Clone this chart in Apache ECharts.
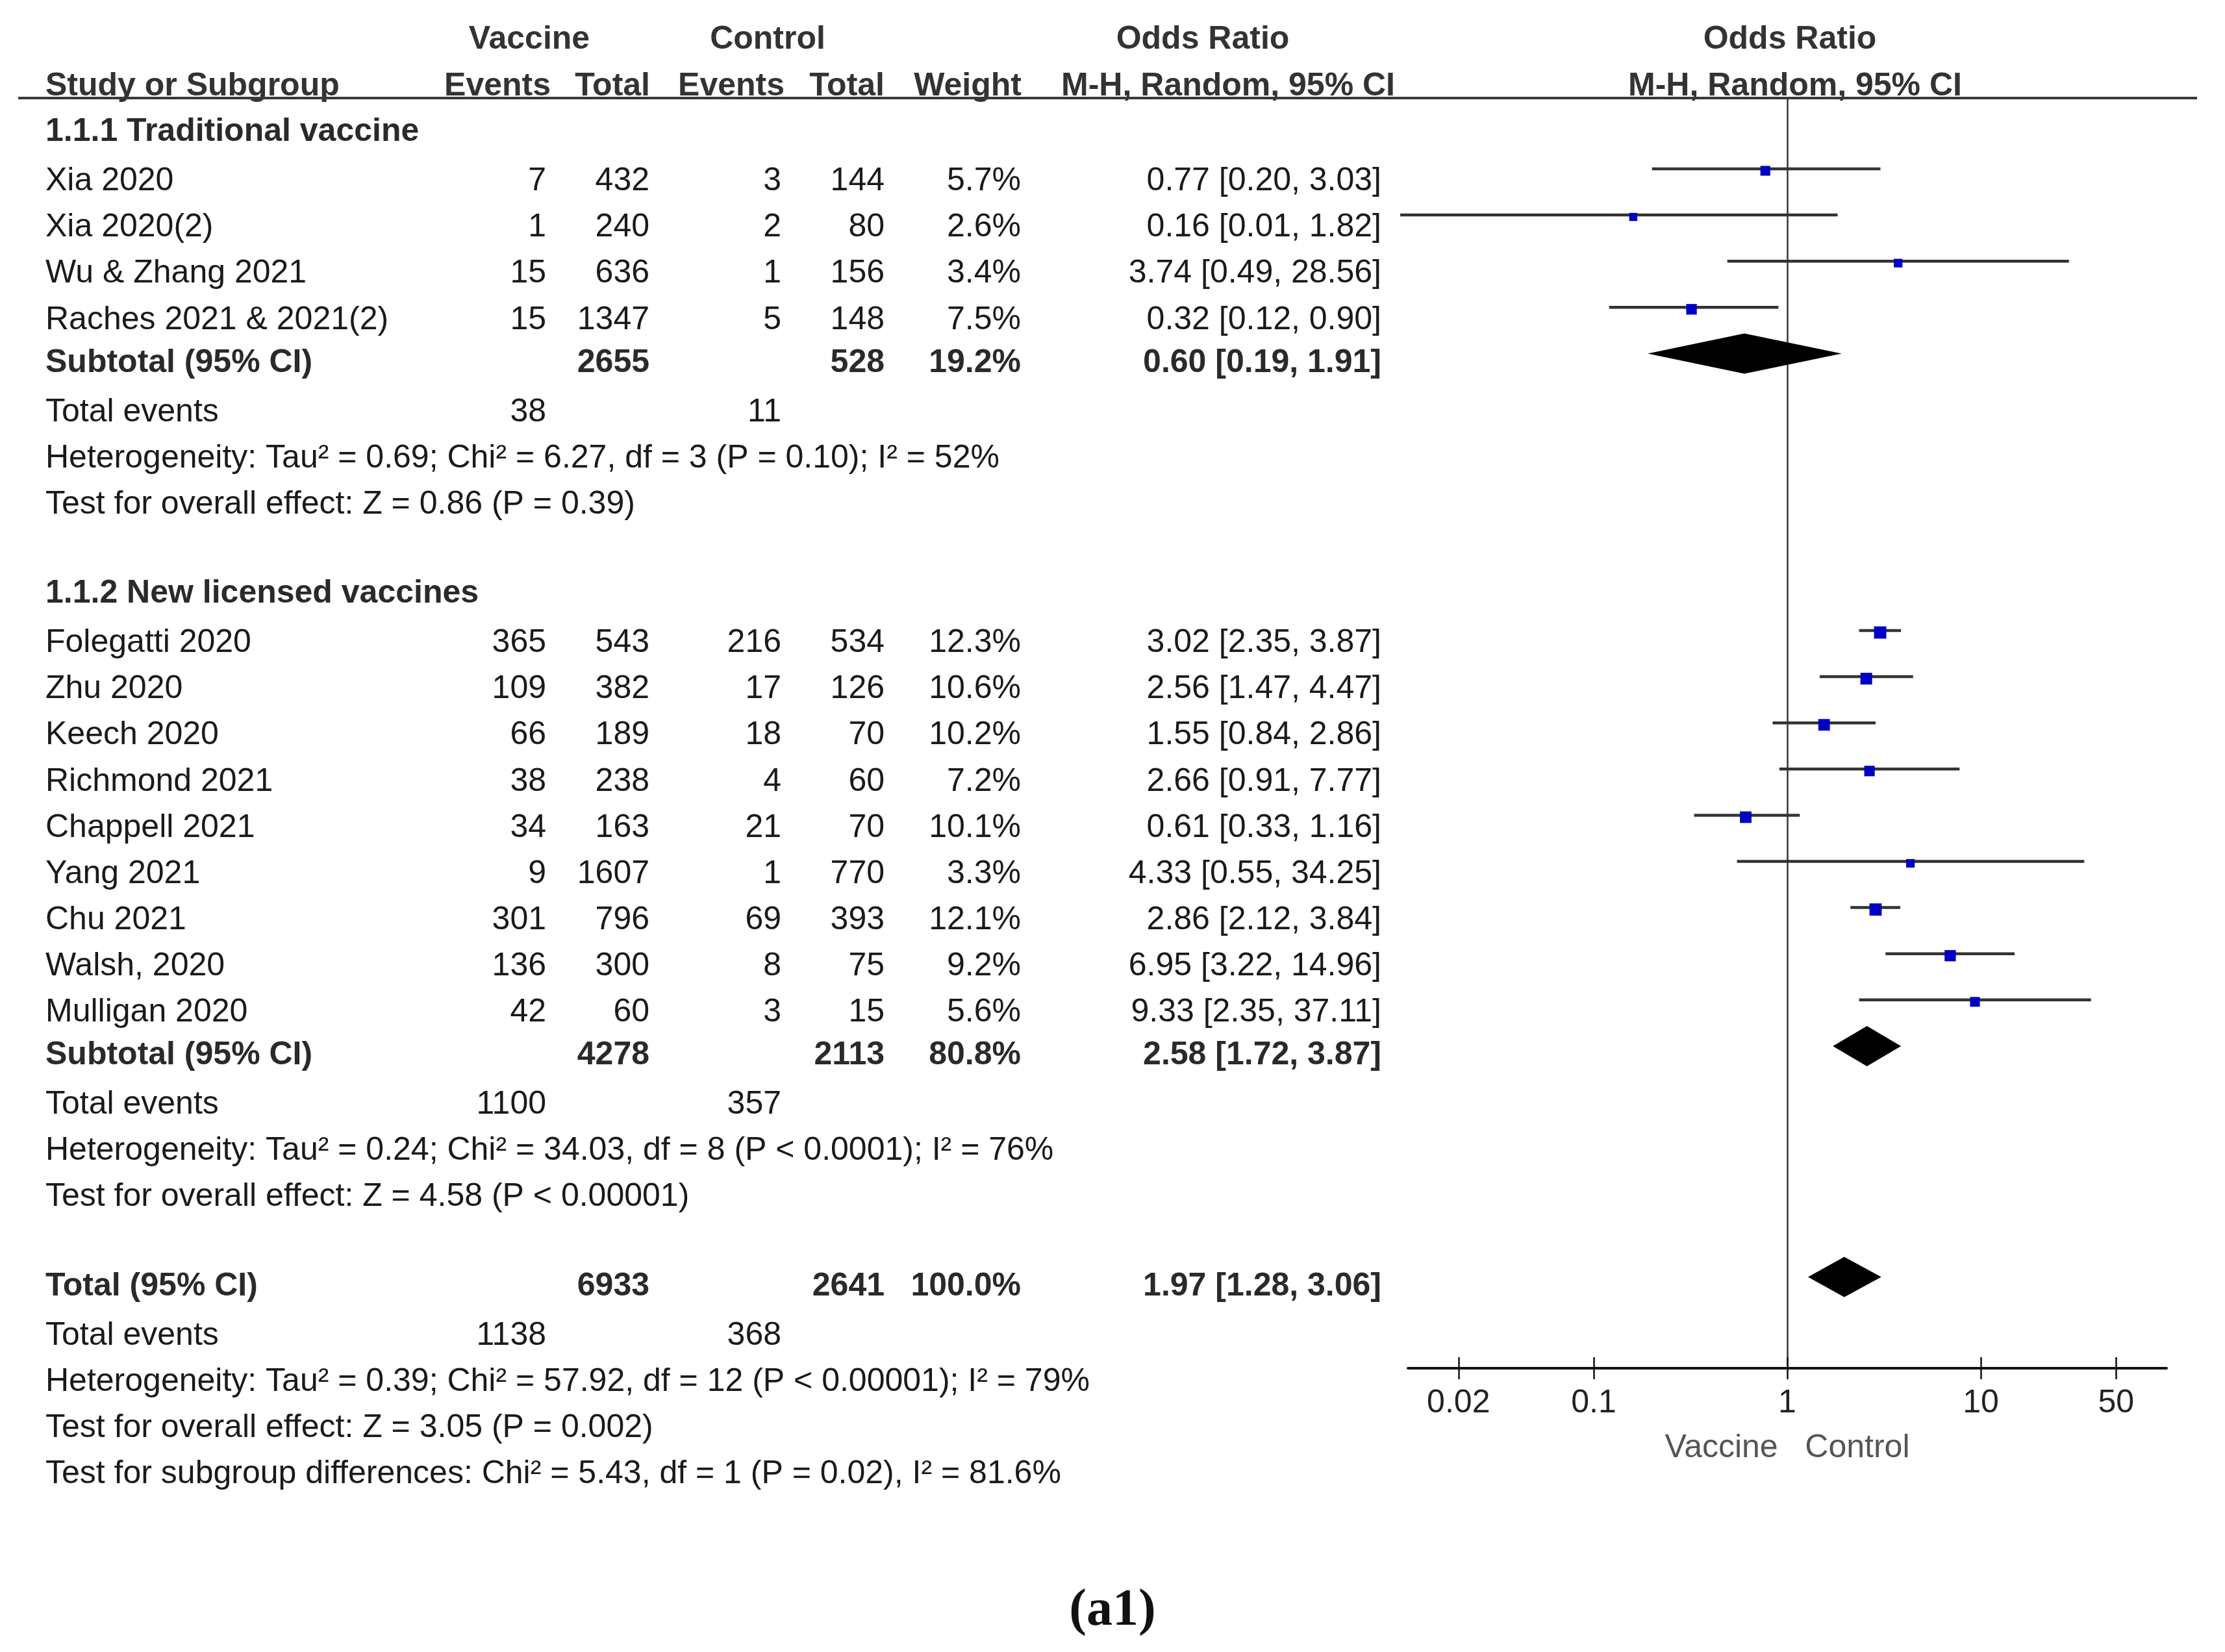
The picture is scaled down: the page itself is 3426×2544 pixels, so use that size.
<!DOCTYPE html>
<html>
<head>
<meta charset="utf-8">
<script src="https://cdn.jsdelivr.net/npm/echarts@6/dist/echarts.min.js"></script>
<style>
html, body { margin: 0; background: #fff; }
#main { width: 3426px; height: 2544px; }
</style>
</head>
<body>
<div id="main"></div>
<script>
// ---- data ----
var group1Title = '1.1.1 Traditional vaccine';
var group1Names = ['Xia 2020', 'Xia 2020(2)', 'Wu & Zhang 2021', 'Raches 2021 & 2021(2)'];
var group1VacEvents = [7, 1, 15, 15];
var group1VacTotal = [432, 240, 636, 1347];
var group1CtlEvents = [3, 2, 1, 5];
var group1CtlTotal = [144, 80, 156, 148];
var group1Weight = [5.7, 2.6, 3.4, 7.5];
var group1OR = [0.77, 0.16, 3.74, 0.32];
var group1Low = [0.20, 0.01, 0.49, 0.12];
var group1High = [3.03, 1.82, 28.56, 0.90];
var group1Sub = { vacTotal: 2655, ctlTotal: 528, weight: 19.2, or: 0.60, low: 0.19, high: 1.91, vacEvents: 38, ctlEvents: 11 };
var group1Notes = ['Heterogeneity: Tau² = 0.69; Chi² = 6.27, df = 3 (P = 0.10); I² = 52%',
                   'Test for overall effect: Z = 0.86 (P = 0.39)'];

var group2Title = '1.1.2 New licensed vaccines';
var group2Names = ['Folegatti 2020', 'Zhu 2020', 'Keech 2020', 'Richmond 2021', 'Chappell 2021',
                   'Yang 2021', 'Chu 2021', 'Walsh, 2020', 'Mulligan 2020'];
var group2VacEvents = [365, 109, 66, 38, 34, 9, 301, 136, 42];
var group2VacTotal = [543, 382, 189, 238, 163, 1607, 796, 300, 60];
var group2CtlEvents = [216, 17, 18, 4, 21, 1, 69, 8, 3];
var group2CtlTotal = [534, 126, 70, 60, 70, 770, 393, 75, 15];
var group2Weight = [12.3, 10.6, 10.2, 7.2, 10.1, 3.3, 12.1, 9.2, 5.6];
var group2OR = [3.02, 2.56, 1.55, 2.66, 0.61, 4.33, 2.86, 6.95, 9.33];
var group2Low = [2.35, 1.47, 0.84, 0.91, 0.33, 0.55, 2.12, 3.22, 2.35];
var group2High = [3.87, 4.47, 2.86, 7.77, 1.16, 34.25, 3.84, 14.96, 37.11];
var group2Sub = { vacTotal: 4278, ctlTotal: 2113, weight: 80.8, or: 2.58, low: 1.72, high: 3.87, vacEvents: 1100, ctlEvents: 357 };
var group2Notes = ['Heterogeneity: Tau² = 0.24; Chi² = 34.03, df = 8 (P < 0.0001); I² = 76%',
                   'Test for overall effect: Z = 4.58 (P < 0.00001)'];

var overall = { vacTotal: 6933, ctlTotal: 2641, weight: 100.0, or: 1.97, low: 1.28, high: 3.06, vacEvents: 1138, ctlEvents: 368 };
var overallNotes = ['Heterogeneity: Tau² = 0.39; Chi² = 57.92, df = 12 (P < 0.00001); I² = 79%',
                    'Test for overall effect: Z = 3.05 (P = 0.002)',
                    'Test for subgroup differences: Chi² = 5.43, df = 1 (P = 0.02), I² = 81.6%'];

var tickValues = [0.02, 0.1, 1, 10, 50];
var tickLabels = ['0.02', '0.1', '1', '10', '50'];

// ---- layout ----
var FONT = "'Liberation Sans', Arial, sans-serif";
var FS = 50;
var colX = { name: 70, vacEv: 841, vacTot: 1000, ctlEv: 1203, ctlTot: 1362, weight: 1572, ci: 2127 };
var BOLD_SHIFT = -0.07;

var texts = [];
var studyMarks = [];
var diamonds = [];

function addText(x, row, text, align, bold, color) {
    texts.push({ x: x, row: row, text: String(text), align: align, bold: !!bold, color: color });
}
function fmtCI(o, l, h) {
    return o.toFixed(2) + ' [' + l.toFixed(2) + ', ' + h.toFixed(2) + ']';
}
function addTotals(row, label, s) {
    var r = row + BOLD_SHIFT;
    addText(colX.name, r, label, 'left', true);
    addText(colX.vacTot, r, s.vacTotal, 'right', true);
    addText(colX.ctlTot, r, s.ctlTotal, 'right', true);
    addText(colX.weight, r, s.weight.toFixed(1) + '%', 'right', true);
    addText(colX.ci, r, fmtCI(s.or, s.low, s.high), 'right', true);
    diamonds.push([Math.log10(s.low), Math.log10(s.high), Math.log10(s.or), row]);
    addText(colX.name, row + 1, 'Total events', 'left');
    addText(colX.vacEv, row + 1, s.vacEvents, 'right');
    addText(colX.ctlEv, row + 1, s.ctlEvents, 'right');
}
function addGroup(row, title, names, ve, vt, ce, ct, w, or, lo, hi, sub, notes) {
    addText(colX.name, row + BOLD_SHIFT, title, 'left', true);
    row++;
    for (var i = 0; i < names.length; i++) {
        addText(colX.name, row, names[i], 'left');
        addText(colX.vacEv, row, ve[i], 'right');
        addText(colX.vacTot, row, vt[i], 'right');
        addText(colX.ctlEv, row, ce[i], 'right');
        addText(colX.ctlTot, row, ct[i], 'right');
        addText(colX.weight, row, w[i].toFixed(1) + '%', 'right');
        addText(colX.ci, row, fmtCI(or[i], lo[i], hi[i]), 'right');
        studyMarks.push([Math.log10(lo[i]), Math.log10(hi[i]), Math.log10(or[i]), row, w[i]]);
        row++;
    }
    addTotals(row, 'Subtotal (95% CI)', sub);
    row += 2;
    for (var j = 0; j < notes.length; j++) { addText(colX.name, row, notes[j], 'left'); row++; }
    return row + 1;
}

// column headers
addText(815, -3.07, 'Vaccine', 'center', true, '#333');
addText(1182, -3.07, 'Control', 'center', true, '#333');
addText(1852, -3.07, 'Odds Ratio', 'center', true, '#333');
addText(colX.name, -2.05, 'Study or Subgroup', 'left', true, '#333');
addText(848, -2.05, 'Events', 'right', true, '#333');
addText(1001, -2.05, 'Total', 'right', true, '#333');
addText(1208, -2.05, 'Events', 'right', true, '#333');
addText(1362, -2.05, 'Total', 'right', true, '#333');
addText(1573, -2.05, 'Weight', 'right', true, '#333');
addText(2148, -2.05, 'M-H, Random, 95% CI', 'right', true, '#333');
addText(2756, -3.07, 'Odds Ratio', 'center', true, '#333');
addText(2764, -2.05, 'M-H, Random, 95% CI', 'center', true, '#333');

var nextRow = addGroup(-1, group1Title, group1Names, group1VacEvents, group1VacTotal, group1CtlEvents,
    group1CtlTotal, group1Weight, group1OR, group1Low, group1High, group1Sub, group1Notes);
nextRow = addGroup(nextRow, group2Title, group2Names, group2VacEvents, group2VacTotal, group2CtlEvents,
    group2CtlTotal, group2Weight, group2OR, group2Low, group2High, group2Sub, group2Notes);
addTotals(nextRow, 'Total (95% CI)', overall);
for (var k = 0; k < overallNotes.length; k++) addText(colX.name, nextRow + 2 + k, overallNotes[k], 'left');

var logTicks = tickValues.map(function (v) { return Math.log10(v); });
function tickFormatter(v) {
    var best = 0;
    for (var i = 1; i < logTicks.length; i++) {
        if (Math.abs(logTicks[i] - v) < Math.abs(logTicks[best] - v)) best = i;
    }
    return tickLabels[best];
}

var chart = echarts.init(document.getElementById('main'));
var option = {
    animation: false,
    backgroundColor: '#fff',
    title: {
        text: '(a1)', left: 'center', top: 2436,
        textStyle: { fontFamily: "'Liberation Serif', 'Times New Roman', serif", fontWeight: 'bold', fontSize: 80, color: '#111' }
    },
    grid: [
        { left: 0, right: 0, top: 0, bottom: 0 },
        { left: 2168, right: 90, top: 151, bottom: 437 }
    ],
    xAxis: [
        { gridIndex: 0, type: 'value', min: 0, max: 3426, show: false },
        {
            gridIndex: 1, type: 'value', min: -1.96, max: 1.96, position: 'bottom',
            axisLine: { show: true, onZero: false, lineStyle: { color: '#111', width: 4 } },
            axisTick: { show: true, customValues: logTicks, length: 17, lineStyle: { color: '#111', width: 2.5 } },
            axisLabel: { show: true, customValues: logTicks, formatter: tickFormatter, margin: 29,
                         fontFamily: FONT, fontSize: FS, color: '#222' },
            splitLine: { show: false },
            name: 'Vaccine   Control', nameLocation: 'middle', nameGap: 98,
            nameTextStyle: { fontFamily: FONT, fontSize: FS, color: '#555' }
        },
        {
            gridIndex: 1, type: 'value', min: -1.96, max: 1.96, position: 'bottom',
            axisLine: { show: false, onZero: false },
            axisTick: { show: true, inside: true, customValues: logTicks, length: 17, lineStyle: { color: '#111', width: 2.5 } },
            axisLabel: { show: false },
            splitLine: { show: false }
        }
    ],
    yAxis: [
        { gridIndex: 0, type: 'value', inverse: true, min: -3.93, max: 31.85, show: false },
        {
            gridIndex: 1, type: 'value', inverse: true, min: -1.533, max: 25.977,
            axisLine: { show: true, onZero: true, lineStyle: { color: '#333', width: 2.5 } },
            axisTick: { show: false }, axisLabel: { show: false }, splitLine: { show: false }
        }
    ],
    graphic: [
        { type: 'line', shape: { x1: 28, y1: 151, x2: 3383, y2: 151 }, style: { stroke: '#3a3a3a', lineWidth: 4 }, z: 10 }
    ],
    series: [
        {
            name: 'table', type: 'custom', xAxisIndex: 0, yAxisIndex: 0,
            data: texts.map(function (t, i) { return [t.x, t.row, i]; }),
            encode: { x: 0, y: 1 },
            renderItem: function (params, api) {
                var t = texts[params.dataIndex];
                var p = api.coord([api.value(0), api.value(1)]);
                return {
                    type: 'text', x: p[0], y: p[1],
                    style: {
                        text: t.text, fill: t.color || (t.bold ? '#2a2a2a' : '#1a1a1a'),
                        fontFamily: FONT, fontSize: FS, fontWeight: t.bold ? 'bold' : 'normal',
                        align: t.align, verticalAlign: 'middle'
                    }
                };
            }
        },
        {
            name: 'studies', type: 'custom', xAxisIndex: 1, yAxisIndex: 1,
            data: studyMarks,
            encode: { x: [0, 1, 2], y: 3 },
            renderItem: function (params, api) {
                var row = api.value(3);
                var a = api.coord([api.value(0), row]);
                var b = api.coord([api.value(1), row]);
                var c = api.coord([api.value(2), row]);
                var s = 7 + 3.4 * Math.sqrt(api.value(4));
                return {
                    type: 'group',
                    children: [
                        { type: 'line', shape: { x1: a[0], y1: a[1], x2: b[0], y2: b[1] },
                          style: { stroke: '#333', lineWidth: 4.5 } },
                        { type: 'rect', shape: { x: c[0] - s / 2, y: c[1] - s / 2 + 3, width: s, height: s },
                          style: { fill: '#0000c4' } }
                    ]
                };
            }
        },
        {
            name: 'pooled', type: 'custom', xAxisIndex: 1, yAxisIndex: 1,
            data: diamonds,
            encode: { x: [0, 1, 2], y: 3 },
            renderItem: function (params, api) {
                var row = api.value(3);
                var l = api.coord([api.value(0), row]);
                var r = api.coord([api.value(1), row]);
                var c = api.coord([api.value(2), row]);
                var h = 31;
                return {
                    type: 'polygon',
                    shape: { points: [[l[0], c[1]], [c[0], c[1] - h], [r[0], c[1]], [c[0], c[1] + h]] },
                    style: { fill: '#000' }
                };
            }
        }
    ]
};
chart.setOption(option);
</script>
</body>
</html>
